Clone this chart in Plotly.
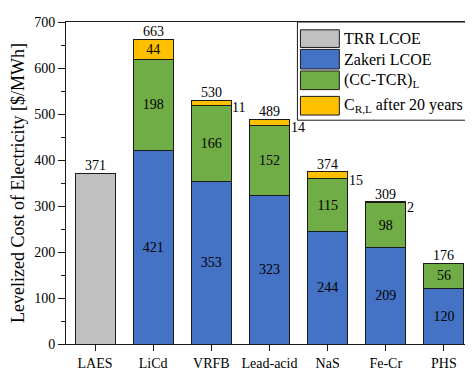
import plotly.graph_objects as go

categories = ["LAES", "LiCd", "VRFB", "Lead-acid", "NaS", "Fe-Cr", "PHS"]
trr_lcoe = [371, None, None, None, None, None, None]
zakeri_lcoe = [None, 421, 353, 323, 244, 209, 120]
cc_tcr = [None, 198, 166, 152, 115, 98, 56]
c_rl = [None, 44, 11, 14, 15, 2, None]
totals = [371, 663, 530, 489, 374, 309, 176]

series_names = ["TRR LCOE", "Zakeri LCOE", "(CC-TCR)<sub>L</sub>", "C<sub>R,L</sub> after 20 years"]
series_colors = ["#C0C0C0", "#4472C4", "#70AD47", "#FFC000"]

FONT = "Liberation Serif, Times New Roman, serif"
BAR_W = 0.69
EDGE = dict(color="#1a1a1a", width=1)

fig = go.Figure()

def add_series(vals, name, color, inside_min=None):
    xs, ys, pos = [], [], []
    for c, v in zip(categories, vals):
        if v is None:
            continue
        xs.append(c)
        ys.append(v)
        show = inside_min is None or v >= inside_min
        pos.append("inside" if show else "none")
    fig.add_trace(go.Bar(
        x=xs, y=ys, name=name, width=BAR_W,
        marker=dict(color=color, line=EDGE),
        text=[str(v) for v in ys], textposition=pos, insidetextanchor="middle", textangle=0,
        textfont=dict(family=FONT, size=14, color="black"),
        constraintext="none", showlegend=False, cliponaxis=False,
    ))

add_series(trr_lcoe, series_names[0], series_colors[0], inside_min=10**9)
add_series(zakeri_lcoe, series_names[1], series_colors[1])
add_series(cc_tcr, series_names[2], series_colors[2])
add_series(c_rl, series_names[3], series_colors[3], inside_min=30)

# total labels on top
for i, t in enumerate(totals):
    fig.add_annotation(x=categories[i], y=t, text=str(t), showarrow=False,
                       yanchor="bottom", yshift=-2,
                       font=dict(family=FONT, size=14, color="black"))

# side labels for small C_R,L segments
for i, v in enumerate(c_rl):
    if v is not None and v < 30:
        base = (zakeri_lcoe[i] or 0) + (cc_tcr[i] or 0)
        fig.add_annotation(x=i + BAR_W / 2, y=base + v / 2, text=str(v), showarrow=False,
                           xanchor="left", yanchor="middle", xshift=-1, yshift=-5,
                           font=dict(family=FONT, size=14, color="black"))

# custom legend (paper coordinates)
fig.add_shape(type="rect", xref="paper", yref="paper", x0=0.5686, x1=1.0, y0=0.695, y1=1.0,
              line=dict(color="#1a1a1a", width=1), fillcolor="white", layer="above")
rows = [(0.9757, 0.921), (0.9149, 0.854), (0.848, 0.790), (0.769, 0.711)]
for (y1, y0), name, color in zip(rows, series_names, series_colors):
    fig.add_shape(type="rect", xref="paper", yref="paper", x0=0.576, x1=0.6716, y0=y0, y1=y1,
                  line=dict(color="#1a1a1a", width=1), fillcolor=color, layer="above")
    fig.add_annotation(xref="paper", yref="paper", x=0.677, y=(y0 + y1) / 2, text=name,
                       showarrow=False, xanchor="left", yanchor="middle",
                       font=dict(family=FONT, size=16, color="black"))

fig.update_layout(
    barmode="stack",
    width=473, height=370,
    margin=dict(l=58, r=7, t=13, b=28),
    paper_bgcolor="white", plot_bgcolor="white",
    font=dict(family=FONT, size=14, color="black"),
    showlegend=False,
)
fig.update_xaxes(
    range=[-0.5, 6.5], showline=True, linecolor="#1a1a1a", linewidth=1, mirror=True,
    ticks="outside", ticklen=6, tickcolor="#1a1a1a",
    tickfont=dict(family=FONT, size=14, color="black"), showgrid=False,
)
fig.update_yaxes(
    range=[0, 700], dtick=100, showline=True, linecolor="#1a1a1a", linewidth=1, mirror=True,
    ticks="outside", ticklen=7, tickcolor="#1a1a1a",
    minor=dict(dtick=50, ticks="outside", ticklen=4, tickcolor="#1a1a1a"),
    tickfont=dict(family=FONT, size=14, color="black"), showgrid=False, zeroline=False,
    title=dict(text="Levelized Cost of Electricity [$/MWh]", font=dict(family=FONT, size=18, color="black"),
               standoff=5),
)

fig.write_html("out.html")
